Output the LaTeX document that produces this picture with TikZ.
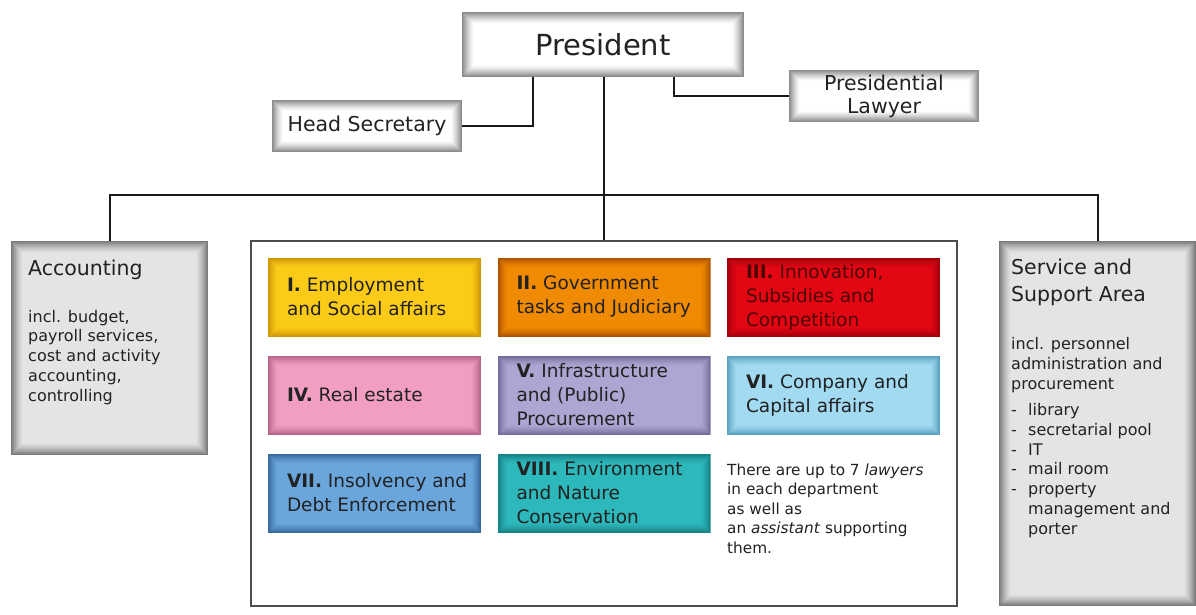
\documentclass[tikz,border=0pt]{standalone}
\usepackage{fontspec}
\setmainfont{DejaVu Sans}
\definecolor{txt}{HTML}{222222}
\definecolor{wedge}{HTML}{8A8A8A}
\definecolor{gcen}{HTML}{E4E4E6}
\definecolor{gedge}{HTML}{7A7A7A}
\definecolor{c1}{HTML}{FCCB18}\definecolor{e1}{HTML}{CF9606}
\definecolor{c2}{HTML}{F08A00}\definecolor{e2}{HTML}{AD5200}
\definecolor{c3}{HTML}{E30613}\definecolor{e3}{HTML}{A0000B}
\definecolor{c4}{HTML}{F29EC2}\definecolor{e4}{HTML}{B6648A}
\definecolor{c5}{HTML}{ACA6D2}\definecolor{e5}{HTML}{716B99}
\definecolor{c6}{HTML}{A2DAF2}\definecolor{e6}{HTML}{5AA0C0}
\definecolor{c7}{HTML}{6AA6DC}\definecolor{e7}{HTML}{36699D}
\definecolor{c8}{HTML}{2DB8BC}\definecolor{e8}{HTML}{148185}
\definecolor{t3}{HTML}{4A0808}
\newcommand{\hdfont}{\fontsize{20.5}{26.5}\selectfont}
\newcommand{\bdfont}{\fontsize{16}{19.7}\selectfont}
\newcommand{\dpfont}{\fontsize{18.5}{24}\selectfont}
\newcommand{\ntfont}{\fontsize{15.3}{19.5}\selectfont}
\tikzset{
  glow/.style n args={3}{
    path picture={
      \foreach \i in {0,...,#3}{
        \pgfmathtruncatemacro\p{100*(1-\i/#3)^1.4}
        \fill[#1!\p!#2] ([shift={(\i*1pt,-\i*1pt)}]path picture bounding box.north west)
          rectangle ([shift={(-\i*1pt,\i*1pt)}]path picture bounding box.south east);
      }
    }
  },
  topbox/.style={rectangle, inner sep=0pt, minimum width=190pt, minimum height=52pt,
    glow={wedge}{white}{11}, text=txt, font=\hdfont, align=center},
  graybox/.style={rectangle, inner sep=0pt, minimum width=197pt, glow={gedge}{gcen}{12}},
  deptshape/.style={rectangle, inner sep=0pt, minimum width=213pt, minimum height=79pt},
  depttext/.style={inner sep=0pt, align=left, font=\dpfont, text=txt},
  conn/.style={line width=2pt, black!90},
  hd/.style={inner sep=0pt, anchor=base west, font=\hdfont, text=txt, align=left},
  bd/.style={inner sep=0pt, anchor=base west, font=\bdfont, text=txt, align=left},
}
\newcommand{\deptbox}[6]{%
  \node[deptshape, glow={#4}{#5}{10}] (#1) at (#2,#3) {};
  \node[depttext, anchor=west] (#1t) at ([xshift=19pt]#1.west) {#6};}
\begin{document}
\begin{tikzpicture}[x=1pt,y=-1pt]
\useasboundingbox (0,0) rectangle (1196,614);
\fill[white] (0,0) rectangle (1196,614);

% top boxes
\node[topbox, minimum width=282pt, minimum height=65pt, glow={wedge}{white}{12}, font=\fontsize{29}{34}\selectfont] (pres) at (603,44.5) {President};
\node[topbox] (hs) at (367,126) {Head Secretary};
\node[topbox, font=\fontsize{20.5}{23}\selectfont] (law) at (884,96) {Presidential\\Lawyer};

% side boxes
\node[graybox, minimum height=214pt] (acc) at (109.5,348) {};
\node[graybox, minimum height=365pt] (svc) at (1097.5,423.5) {};

% central frame
\node[rectangle, draw=black!70, line width=1.5pt, fill=white, minimum width=706pt, minimum height=365pt, inner sep=0pt] (big) at (604,423.5) {};

% connectors
\coordinate (bus) at (604,195);
\draw[conn] ([xshift=-70pt]pres.south) |- (hs.east);
\draw[conn] ([xshift=71pt]pres.south) |- (law.west);
\draw[conn] ([xshift=1pt]pres.south) -- ([xshift=0pt]big.north);
\draw[conn] (acc.north) |- (bus) -| (svc.north);

% accounting text (base anchor = baseline of last line)
\node[hd] (acch) at (28,275) {Accounting};
\node[bd] (accb) at (28,401) {incl. budget,\\payroll services,\\cost and activity\\accounting,\\controlling};

% service text
\node[hd] (svch) at (1011,301) {Service and\\Support Area};
\node[bd] (svcb) at (1011,534) {incl. personnel\\administration and\\procurement\\[7pt]
\makebox[17pt][l]{-}library\\
\makebox[17pt][l]{-}secretarial pool\\
\makebox[17pt][l]{-}IT\\
\makebox[17pt][l]{-}mail room\\
\makebox[17pt][l]{-}property\\
\makebox[17pt][l]{}management and\\
\makebox[17pt][l]{}porter};

% departments
\deptbox{d1}{374.5}{297}{e1}{c1}{\textbf{I.} Employment\\and Social affairs}
\deptbox{d2}{604}{297}{e2}{c2}{\textbf{II.} Government\\tasks and Judiciary}
\deptbox{d3}{833.5}{297}{e3}{c3}{\color{t3}\textbf{III.} Innovation,\\\color{t3}Subsidies and\\\color{t3}Competition}
\deptbox{d4}{374.5}{395}{e4}{c4}{\textbf{IV.} Real estate}
\deptbox{d5}{604}{395}{e5}{c5}{\textbf{V.} Infrastructure\\and (Public)\\Procurement}
\deptbox{d6}{833.5}{395}{e6}{c6}{\textbf{VI.} Company and\\Capital affairs}
\deptbox{d7}{374.5}{493}{e7}{c7}{\textbf{VII.} Insolvency and\\Debt Enforcement}
\deptbox{d8}{604}{493}{e8}{c8}{\textbf{VIII.} Environment\\and Nature\\Conservation}

% note
\node[inner sep=0pt, anchor=base west, font=\ntfont, text=txt, align=left] (note) at (727,553)
 {There are up to 7 \textit{lawyers}\\in each department\\as well as\\an \textit{assistant} supporting\\them.};
\end{tikzpicture}
\end{document}
